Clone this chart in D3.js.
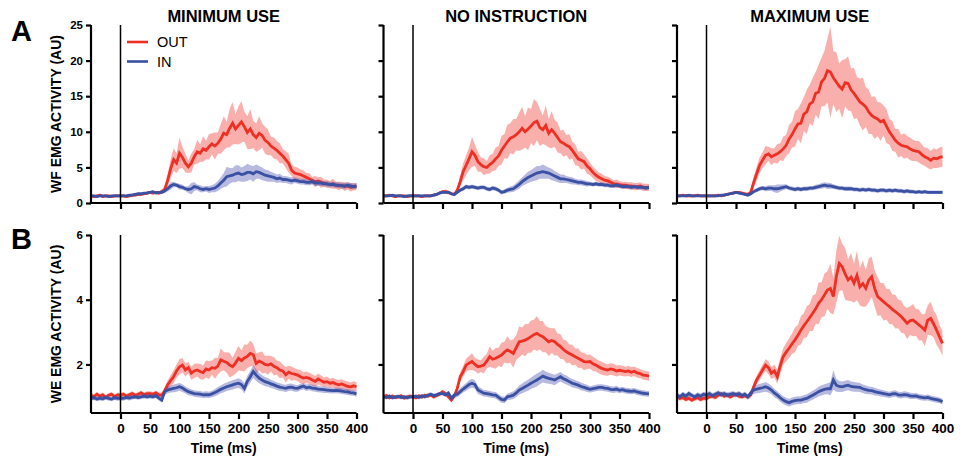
<!DOCTYPE html>
<html>
<head>
<meta charset="utf-8">
<script src="https://cdn.jsdelivr.net/npm/d3@7"></script>
<style>
  html, body { margin: 0; padding: 0; background: #fff; }
  svg { display: block; font-family: "Liberation Sans", Arial, Helvetica, sans-serif; }
</style>
</head>
<body>
<svg id="chart" width="964" height="459"></svg>
<script>
// Sample times (ms), 5 ms bins from -50 to 400
const time = d3.range(-50, 401, 5);

const conditions = ["MINIMUM USE", "NO INSTRUCTION", "MAXIMUM USE"];
const rowLetters = ["A", "B"];
const rowLabels = ["WF EMG ACTIVITY (AU)", "WE EMG ACTIVITY (AU)"];
const seriesNames = ["OUT", "IN"];
const xTicks = [0, 50, 100, 150, 200, 250, 300, 350, 400];
const wfTicks = [0, 5, 10, 15, 20, 25];
const weTicks = [2, 4, 6];
const xLabel = "Time (ms)";

// ---- Wrist flexor (WF), mean and SEM ----
const wfMinOut = [1.0,0.9,1.0,1.1,0.9,1.0,1.0,0.9,1.0,1.0, 1.0,1.0,0.9,1.0,1.1,1.1,1.2,1.2,1.3,1.4,
  1.5,1.4,1.5,1.4,1.6,1.9,3.2,4.8,6.1,5.6, 7.0,6.4,5.6,5.1,5.6,6.5,7.2,7.0,7.6,7.4,
  7.9,8.3,8.0,8.4,9.0,9.8,9.6,10.5,11.2,10.4, 10.9,11.4,10.7,9.9,10.4,9.6,9.2,9.8,9.5,8.8,
  8.5,8.0,7.7,7.4,7.0,6.6,6.1,5.6,4.6,4.2, 4.1,4.0,3.8,3.6,3.4,3.2,3.0,3.1,2.9,2.8,
  2.7,2.6,2.7,2.5,2.4,2.5,2.3,2.4,2.2,2.3, 2.3];
const wfMinOutSem = [0.2,0.2,0.2,0.2,0.2,0.2,0.2,0.2,0.2,0.2, 0.2,0.2,0.2,0.2,0.2,0.2,0.2,0.2,0.2,0.2,
  0.2,0.2,0.2,0.3,0.3,0.5,0.9,1.3,1.6,1.4, 2.2,1.5,1.3,0.9,1.3,1.1,1.7,1.2,1.8,1.3,
  1.8,1.5,1.9,1.5,2.1,2.4,1.8,2.7,3.0,2.1, 2.7,2.9,2.1,2.3,2.8,1.9,2.0,2.4,1.7,1.9,
  1.8,1.3,1.5,1.3,1.4,1.0,1.2,1.3,0.8,0.9, 0.9,0.7,0.8,0.6,0.8,0.5,0.8,0.5,0.8,0.5,
  0.6,0.5,0.7,0.5,0.6,0.5,0.6,0.5,0.6,0.5, 0.5];
const wfMinIn = [1.0,1.0,0.9,1.0,1.0,1.0,0.9,1.0,1.0,1.0, 1.0,1.0,1.0,1.1,1.1,1.2,1.3,1.3,1.4,1.4,
  1.5,1.6,1.4,1.5,1.5,1.7,2.0,2.4,2.6,2.5, 2.3,2.2,2.0,1.9,2.0,2.3,2.2,2.0,1.9,2.0,
  1.9,2.0,2.1,2.4,2.8,3.2,3.7,3.8,3.9,4.1, 4.2,4.0,4.1,4.3,4.3,4.1,4.4,4.3,4.1,3.9,
  3.8,3.7,3.6,3.4,3.5,3.3,3.3,3.2,3.1,3.2, 3.1,3.0,3.0,2.9,2.9,3.0,2.8,2.8,2.8,2.7,
  2.7,2.6,2.6,2.5,2.5,2.4,2.4,2.5,2.4,2.3, 2.4];
const wfMinInSem = [0.15,0.15,0.15,0.15,0.15,0.15,0.15,0.15,0.15,0.15, 0.15,0.15,0.15,0.15,0.15,0.15,0.15,0.15,0.15,0.15,
  0.15,0.15,0.15,0.2,0.2,0.3,0.4,0.5,0.4,0.3, 0.4,0.35,0.3,0.5,0.8,0.6,0.4,0.5,0.4,0.4,
  0.5,0.5,0.6,0.7,0.8,1.0,1.4,1.1,1.0,1.2, 1.1,1.0,1.1,1.2,1.0,1.1,1.0,0.9,0.9,0.8,
  0.8,0.7,0.6,0.6,0.6,0.5,0.5,0.5,0.5,0.4, 0.4,0.4,0.4,0.4,0.4,0.4,0.4,0.4,0.4,0.4,
  0.4,0.4,0.4,0.4,0.4,0.4,0.4,0.4,0.4,0.4, 0.4];

const wfNoiOut = [1.0,1.0,1.1,1.0,0.9,1.0,1.0,1.0,0.9,1.0, 1.0,1.0,1.0,0.9,1.0,1.0,1.0,1.1,1.2,1.4,
  1.6,1.6,1.5,1.3,1.2,1.8,3.0,4.4,5.3,6.2, 7.2,6.7,5.8,5.4,5.1,5.0,5.4,5.7,6.2,6.6,
  7.4,8.0,8.6,9.1,9.3,9.6,10.0,10.5,10.0,10.4, 10.8,11.3,11.5,10.6,10.3,10.9,9.8,10.3,9.8,9.2,
  8.6,8.4,8.1,7.9,7.4,6.8,6.2,6.0,5.8,5.2, 4.8,4.3,3.9,3.6,3.4,3.2,3.1,2.9,2.7,2.7,
  2.6,2.5,2.5,2.4,2.4,2.3,2.3,2.4,2.2,2.2, 2.2];
const wfNoiOutSem = [0.2,0.2,0.2,0.2,0.2,0.2,0.2,0.2,0.2,0.2, 0.2,0.2,0.2,0.2,0.2,0.2,0.2,0.2,0.2,0.2,
  0.2,0.3,0.3,0.2,0.2,0.4,0.8,1.2,1.4,1.6, 2.1,1.5,1.4,1.0,1.2,0.9,1.3,1.2,1.6,1.4,
  2.0,1.7,2.4,2.1,2.5,2.2,2.7,3.0,2.2,3.0, 2.4,3.3,2.7,2.6,2.0,2.8,2.0,2.6,1.9,2.1,
  1.6,1.9,1.4,1.8,1.2,1.5,1.0,1.3,1.0,1.1, 0.9,0.8,0.8,0.7,0.7,0.6,0.6,0.6,0.5,0.6,
  0.5,0.5,0.5,0.5,0.5,0.5,0.5,0.5,0.5,0.5, 0.5];
const wfNoiIn = [1.0,1.0,1.0,1.1,1.0,1.0,1.0,0.9,1.0,1.0, 1.0,1.0,1.0,1.0,1.0,1.0,1.0,1.1,1.2,1.4,
  1.5,1.5,1.5,1.3,1.2,1.5,1.8,2.0,2.3,2.2, 2.3,2.2,2.1,2.2,2.2,2.0,1.9,2.1,2.0,1.8,
  1.5,1.6,1.8,1.9,2.0,2.3,2.6,3.0,3.3,3.6, 3.8,4.0,4.2,4.3,4.4,4.3,4.2,4.0,3.8,3.6,
  3.4,3.4,3.3,3.2,3.1,3.0,2.9,2.9,2.8,2.7, 2.7,2.6,2.7,2.6,2.6,2.5,2.5,2.4,2.4,2.5,
  2.4,2.3,2.3,2.3,2.2,2.3,2.2,2.2,2.2,2.1, 2.2];
const wfNoiInSem = [0.15,0.15,0.15,0.15,0.15,0.15,0.15,0.15,0.15,0.15, 0.15,0.15,0.15,0.15,0.15,0.15,0.15,0.15,0.15,0.15,
  0.15,0.15,0.15,0.15,0.15,0.2,0.25,0.3,0.3,0.3, 0.3,0.3,0.3,0.3,0.3,0.3,0.3,0.3,0.3,0.3,
  0.3,0.3,0.35,0.4,0.45,0.5,0.6,0.6,0.7,0.8, 0.8,0.9,1.0,0.9,1.0,0.9,0.8,0.8,0.7,0.7,
  0.6,0.6,0.5,0.5,0.5,0.4,0.4,0.4,0.4,0.4, 0.3,0.3,0.3,0.3,0.3,0.3,0.3,0.3,0.3,0.3,
  0.3,0.3,0.3,0.3,0.3,0.3,0.3,0.3,0.3,0.3, 0.3];

const wfMaxOut = [1.0,1.0,1.1,1.0,1.0,1.0,1.0,1.1,1.0,1.0, 1.0,1.0,1.0,1.0,1.1,1.0,1.1,1.2,1.3,1.4,
  1.5,1.5,1.4,1.3,1.2,1.5,2.9,4.1,5.3,6.0, 6.7,6.9,6.5,6.7,6.9,7.2,7.6,8.1,9.0,9.6,
  10.4,11.1,11.2,12.5,12.8,13.9,14.2,15.4,15.6,17.0, 17.5,18.6,18.4,17.6,17.0,16.4,16.0,16.9,16.8,15.9,
  15.4,14.8,14.2,13.9,13.5,12.8,12.3,12.0,11.8,11.4, 11.6,10.8,10.0,9.4,8.8,8.4,8.1,8.0,7.9,7.6,
  7.4,7.3,7.2,6.8,6.5,6.3,6.0,6.3,6.2,6.4, 6.5];
const wfMaxOutSem = [0.2,0.2,0.2,0.2,0.2,0.2,0.2,0.2,0.2,0.2, 0.2,0.2,0.2,0.2,0.2,0.2,0.2,0.2,0.2,0.2,
  0.2,0.2,0.2,0.2,0.2,0.4,0.8,1.0,1.1,1.1, 1.3,1.0,1.2,1.0,1.4,1.2,1.7,1.5,2.0,1.8,
  2.5,2.1,2.8,2.4,3.1,2.7,3.4,3.0,3.8,3.4, 3.9,4.5,6.4,3.7,4.2,3.2,4.1,3.3,3.8,3.0,
  3.6,2.9,3.3,3.7,2.8,3.1,2.6,3.0,2.4,2.7, 2.1,2.4,1.8,2.1,1.6,2.0,1.5,1.8,1.5,1.6,
  1.5,1.4,1.5,1.4,1.3,1.4,1.3,1.4,1.3,1.4, 1.4];
const wfMaxIn = [1.0,1.0,1.0,1.0,1.1,1.0,1.0,1.0,1.0,1.0, 1.0,1.0,1.0,1.0,1.0,1.1,1.1,1.2,1.3,1.4,
  1.5,1.4,1.3,1.2,1.1,1.3,1.6,1.8,2.0,2.1, 2.0,2.1,2.1,2.0,2.0,2.1,2.2,2.3,2.1,2.0,
  1.9,2.0,1.9,2.0,2.0,2.1,2.1,2.2,2.3,2.4, 2.5,2.4,2.4,2.3,2.2,2.1,2.1,2.0,2.0,2.0,
  1.9,1.9,1.8,1.9,1.8,1.9,1.8,1.8,1.7,1.8, 1.8,1.7,1.8,1.7,1.8,1.7,1.7,1.6,1.7,1.6,
  1.6,1.5,1.6,1.5,1.6,1.5,1.5,1.5,1.5,1.5, 1.5];
const wfMaxInSem = [0.15,0.15,0.15,0.15,0.15,0.15,0.15,0.15,0.15,0.15, 0.15,0.15,0.15,0.15,0.15,0.15,0.15,0.15,0.15,0.15,
  0.15,0.15,0.15,0.15,0.15,0.2,0.25,0.3,0.3,0.3, 0.35,0.4,0.4,0.5,0.6,0.5,0.4,0.35,0.3,0.3,
  0.3,0.3,0.3,0.3,0.3,0.3,0.3,0.35,0.35,0.4, 0.4,0.45,0.4,0.35,0.3,0.3,0.3,0.3,0.3,0.3,
  0.3,0.3,0.3,0.3,0.3,0.3,0.3,0.3,0.3,0.3, 0.3,0.3,0.3,0.3,0.3,0.3,0.3,0.3,0.3,0.3,
  0.25,0.25,0.25,0.25,0.25,0.25,0.25,0.25,0.25,0.25, 0.25];

// ---- Wrist extensor (WE), mean and SEM ----
const weMinOut = [1.05,1.0,1.08,1.02,1.06,0.98,1.05,1.08,1.0,1.06, 1.05,1.08,1.02,1.06,1.1,1.04,1.08,1.12,1.06,1.1,
  1.1,1.08,1.12,1.06,1.05,1.19,1.37,1.5,1.62,1.8, 1.93,1.98,1.83,1.9,1.73,1.8,1.83,1.78,1.75,1.86,
  1.83,1.9,1.88,1.95,2.14,2.1,2.06,1.98,1.93,2.05, 2.19,2.12,2.2,2.25,2.34,2.3,2.03,2.1,2.06,2.0,
  1.98,2.02,1.94,1.9,1.83,1.8,1.68,1.76,1.72,1.7, 1.67,1.62,1.58,1.6,1.57,1.52,1.48,1.55,1.5,1.45,
  1.47,1.42,1.44,1.4,1.37,1.4,1.36,1.32,1.31,1.34, 1.31];
const weMinOutSem = [0.07,0.07,0.07,0.07,0.07,0.07,0.07,0.07,0.07,0.07, 0.07,0.07,0.07,0.07,0.07,0.07,0.07,0.07,0.07,0.07,
  0.07,0.07,0.07,0.08,0.08,0.1,0.14,0.17,0.2,0.2, 0.24,0.22,0.2,0.18,0.2,0.22,0.2,0.24,0.22,0.26,
  0.28,0.22,0.32,0.26,0.36,0.28,0.32,0.38,0.28,0.34, 0.38,0.32,0.42,0.36,0.4,0.34,0.32,0.28,0.34,0.26,
  0.3,0.24,0.28,0.22,0.26,0.2,0.24,0.2,0.22,0.18, 0.18,0.2,0.18,0.18,0.17,0.18,0.16,0.17,0.16,0.15,
  0.16,0.14,0.15,0.14,0.15,0.14,0.14,0.15,0.13,0.14, 0.14];
const weMinIn = [0.95,0.97,0.93,0.96,0.94,0.98,0.95,0.93,0.97,0.95, 0.96,0.95,0.98,0.96,0.99,1.0,0.98,1.0,1.02,1.0,
  1.02,1.0,1.03,0.96,0.9,1.16,1.21,1.24,1.26,1.28, 1.31,1.27,1.21,1.16,1.13,1.1,1.09,1.08,1.06,1.07,
  1.06,1.09,1.13,1.18,1.23,1.27,1.31,1.34,1.37,1.4, 1.42,1.38,1.26,1.48,1.62,1.78,1.67,1.58,1.52,1.47,
  1.44,1.4,1.37,1.33,1.3,1.28,1.26,1.29,1.3,1.27, 1.26,1.3,1.33,1.28,1.3,1.27,1.26,1.24,1.23,1.22,
  1.21,1.2,1.19,1.2,1.19,1.18,1.16,1.15,1.13,1.12, 1.09];
const weMinInSem = [0.07,0.07,0.07,0.07,0.07,0.07,0.07,0.07,0.07,0.07, 0.07,0.07,0.07,0.07,0.07,0.07,0.07,0.07,0.07,0.07,
  0.07,0.07,0.07,0.07,0.08,0.1,0.1,0.11,0.12,0.12, 0.12,0.12,0.11,0.11,0.1,0.1,0.1,0.1,0.1,0.1,
  0.1,0.1,0.11,0.12,0.12,0.13,0.13,0.14,0.14,0.14, 0.15,0.15,0.16,0.17,0.18,0.2,0.18,0.16,0.15,0.14,
  0.13,0.13,0.12,0.12,0.12,0.11,0.11,0.11,0.11,0.11, 0.1,0.1,0.1,0.1,0.1,0.1,0.1,0.1,0.1,0.1,
  0.09,0.09,0.09,0.09,0.09,0.09,0.09,0.09,0.09,0.09, 0.09];

const weNoiOut = [1.0,1.04,0.97,1.02,0.98,1.0,1.03,0.96,1.0,1.02, 1.0,0.97,1.03,0.99,1.05,1.02,1.06,1.0,1.04,1.08,
  1.16,1.1,1.0,0.9,1.02,1.26,1.62,1.78,1.98,2.04, 2.09,2.0,1.93,1.95,1.98,2.1,2.24,2.16,2.19,2.24,
  2.29,2.38,2.45,2.4,2.34,2.52,2.7,2.72,2.75,2.8, 2.86,2.92,2.96,2.9,2.86,2.78,2.7,2.74,2.7,2.62,
  2.55,2.46,2.39,2.34,2.29,2.24,2.19,2.14,2.09,2.08, 2.09,2.02,1.98,1.92,1.88,1.85,1.83,1.86,1.84,1.8,
  1.82,1.8,1.78,1.8,1.76,1.79,1.74,1.72,1.67,1.66, 1.64];
const weNoiOutSem = [0.06,0.06,0.06,0.06,0.06,0.06,0.06,0.06,0.06,0.06, 0.06,0.06,0.06,0.06,0.06,0.06,0.06,0.06,0.06,0.06,
  0.06,0.06,0.07,0.07,0.08,0.1,0.14,0.17,0.2,0.22, 0.26,0.2,0.22,0.18,0.26,0.22,0.32,0.26,0.32,0.28,
  0.38,0.32,0.42,0.34,0.44,0.38,0.48,0.42,0.5,0.44, 0.5,0.46,0.54,0.44,0.48,0.4,0.44,0.38,0.42,0.34,
  0.38,0.3,0.35,0.28,0.32,0.25,0.3,0.24,0.27,0.22, 0.22,0.22,0.2,0.2,0.2,0.19,0.18,0.18,0.18,0.17,
  0.16,0.16,0.15,0.16,0.15,0.15,0.15,0.14,0.14,0.14, 0.14];
const weNoiIn = [1.0,0.98,1.02,0.97,1.0,1.01,0.98,1.0,0.97,1.0, 1.0,1.02,0.98,1.03,1.0,1.05,1.08,1.04,1.06,1.1,
  1.1,1.06,1.12,0.96,1.05,1.08,1.16,1.24,1.31,1.38, 1.42,1.38,1.21,1.16,1.11,1.1,1.08,1.06,1.05,0.98,
  0.92,0.9,1.0,1.02,1.05,1.12,1.21,1.26,1.31,1.36, 1.42,1.47,1.52,1.58,1.64,1.6,1.57,1.55,1.52,1.57,
  1.62,1.56,1.52,1.47,1.42,1.39,1.36,1.32,1.29,1.26, 1.23,1.25,1.27,1.29,1.29,1.27,1.26,1.23,1.22,1.24,
  1.2,1.22,1.19,1.18,1.17,1.18,1.15,1.13,1.11,1.1, 1.09];
const weNoiInSem = [0.06,0.06,0.06,0.06,0.06,0.06,0.06,0.06,0.06,0.06, 0.06,0.06,0.06,0.06,0.06,0.06,0.06,0.06,0.06,0.06,
  0.06,0.06,0.07,0.07,0.08,0.09,0.1,0.11,0.12,0.13, 0.14,0.13,0.12,0.11,0.1,0.1,0.1,0.1,0.1,0.1,
  0.1,0.1,0.1,0.11,0.12,0.13,0.14,0.15,0.16,0.17, 0.18,0.19,0.2,0.19,0.2,0.18,0.17,0.16,0.16,0.15,
  0.15,0.14,0.14,0.13,0.13,0.12,0.12,0.12,0.11,0.11, 0.1,0.1,0.1,0.1,0.1,0.1,0.1,0.1,0.1,0.1,
  0.09,0.09,0.09,0.09,0.09,0.09,0.09,0.09,0.09,0.09, 0.09];

const weMaxOut = [1.0,0.95,0.98,0.92,0.96,0.9,0.94,0.97,0.92,0.96, 0.95,1.0,1.02,0.98,1.05,1.1,1.02,1.06,1.0,1.04,
  1.08,1.02,1.0,1.03,1.0,1.06,1.31,1.52,1.67,1.83, 1.98,1.9,1.73,1.8,1.62,1.96,2.24,2.38,2.5,2.64,
  2.76,2.9,3.06,3.2,3.32,3.45,3.58,3.72,3.89,4.0, 4.15,4.3,4.35,4.1,4.71,5.12,5.02,4.8,4.61,4.7,
  4.51,4.75,4.4,4.5,4.35,4.6,4.71,4.35,4.1,4.02, 3.94,3.86,3.79,3.7,3.63,3.56,3.48,3.38,3.27,3.35,
  3.37,3.3,3.22,3.15,3.06,3.37,3.42,3.25,3.06,2.85, 2.65];
const weMaxOutSem = [0.07,0.07,0.07,0.07,0.07,0.07,0.07,0.07,0.07,0.07, 0.07,0.07,0.07,0.07,0.07,0.07,0.07,0.07,0.07,0.07,
  0.07,0.07,0.07,0.07,0.08,0.1,0.12,0.14,0.15,0.16, 0.18,0.2,0.18,0.2,0.22,0.24,0.26,0.28,0.3,0.32,
  0.38,0.32,0.44,0.38,0.48,0.42,0.55,0.46,0.64,0.54, 0.66,0.58,0.76,0.56,0.8,0.86,0.72,0.8,0.64,0.74,
  0.6,0.76,0.58,0.72,0.56,0.68,0.62,0.56,0.6,0.5, 0.58,0.48,0.54,0.46,0.52,0.44,0.5,0.42,0.48,0.44,
  0.5,0.42,0.48,0.4,0.5,0.46,0.52,0.42,0.46,0.38, 0.38];
const weMaxIn = [1.05,1.0,1.08,1.02,1.1,1.04,1.0,1.06,1.02,1.08, 1.05,1.1,1.04,1.08,1.12,1.06,1.1,1.05,1.08,1.1,
  1.06,1.1,1.04,1.08,1.0,1.12,1.21,1.24,1.26,1.28, 1.31,1.27,1.21,1.12,1.05,0.97,0.9,0.85,0.82,0.86,
  0.88,0.9,0.9,0.93,0.95,1.0,1.05,1.1,1.16,1.2, 1.23,1.25,1.25,1.52,1.36,1.32,1.31,1.34,1.36,1.32,
  1.31,1.3,1.29,1.25,1.22,1.2,1.19,1.16,1.14,1.12, 1.1,1.08,1.06,1.09,1.1,1.06,1.05,1.07,1.06,1.03,
  1.02,1.03,1.0,0.98,0.97,0.98,0.95,0.93,0.91,0.89, 0.85];
const weMaxInSem = [0.08,0.08,0.08,0.08,0.08,0.08,0.08,0.08,0.08,0.08, 0.08,0.08,0.08,0.08,0.08,0.08,0.08,0.08,0.08,0.08,
  0.08,0.08,0.08,0.08,0.08,0.1,0.12,0.13,0.14,0.14, 0.15,0.14,0.13,0.13,0.12,0.12,0.12,0.12,0.12,0.12,
  0.12,0.12,0.12,0.12,0.13,0.13,0.14,0.14,0.15,0.16, 0.16,0.17,0.2,0.3,0.2,0.17,0.16,0.16,0.16,0.15,
  0.15,0.14,0.14,0.13,0.13,0.12,0.12,0.12,0.11,0.11, 0.1,0.1,0.1,0.1,0.1,0.1,0.1,0.1,0.1,0.1,
  0.09,0.09,0.09,0.09,0.09,0.09,0.09,0.09,0.09,0.09, 0.09];

// Panels: [row][column]
const panels = [
  [
    { out: wfMinOut, outSem: wfMinOutSem, inn: wfMinIn, innSem: wfMinInSem },
    { out: wfNoiOut, outSem: wfNoiOutSem, inn: wfNoiIn, innSem: wfNoiInSem },
    { out: wfMaxOut, outSem: wfMaxOutSem, inn: wfMaxIn, innSem: wfMaxInSem }
  ],
  [
    { out: weMinOut, outSem: weMinOutSem, inn: weMinIn, innSem: weMinInSem },
    { out: weNoiOut, outSem: weNoiOutSem, inn: weNoiIn, innSem: weNoiInSem },
    { out: weMaxOut, outSem: weMaxOutSem, inn: weMaxIn, innSem: weMaxInSem }
  ]
];

// ---- Layout ----
const panelLeft = [91, 383.5, 677];
const panelWidth = 265.5;
const rowTop = [25, 235];
const panelHeight = 178;
const yDomains = [[0, 25], [0.5, 6]];
const yTickSets = [wfTicks, weTicks];

const COLOR_OUT = "#ee2f24";
const COLOR_IN = "#3a50a3";
const BAND_OUT = "#ee2f24";
const BAND_IN = "#4a4fb0";

const svg = d3.select("#chart");

rowLabels.forEach((lbl, r) => {
  const y0 = rowTop[r];
  svg.append("text")
    .attr("x", 11)
    .attr("y", y0 + (r === 0 ? 15.5 : 13.5))
    .attr("font-size", 29)
    .attr("font-weight", "bold")
    .text(rowLetters[r]);
  svg.append("text")
    .attr("transform", `translate(61,${y0 + panelHeight / 2}) rotate(-90)`)
    .attr("text-anchor", "middle")
    .attr("font-size", 14)
    .attr("font-weight", "bold")
    .text(lbl);
});

for (let r = 0; r < 2; r++) {
  for (let c = 0; c < 3; c++) {
    const x0 = panelLeft[c], y0 = rowTop[r];
    const g = svg.append("g").attr("transform", `translate(${x0},${y0})`);
    const x = d3.scaleLinear().domain([-50, 400]).range([0, panelWidth]);
    const y = d3.scaleLinear().domain(yDomains[r]).range([panelHeight, 0]);
    const p = panels[r][c];

    const band = (mean, sem) => d3.area()
      .x((d, i) => x(time[i]))
      .y0((d, i) => y(mean[i] - sem[i]))
      .y1((d, i) => y(mean[i] + sem[i]))(mean);
    const line = d3.line().x((d, i) => x(time[i])).y(d => y(d));

    // SEM bands and mean traces
    g.append("path").attr("d", band(p.out, p.outSem)).attr("fill", BAND_OUT).attr("fill-opacity", 0.38);
    g.append("path").attr("d", line(p.out)).attr("fill", "none").attr("stroke", COLOR_OUT)
      .attr("stroke-width", 2.8).attr("stroke-linejoin", "miter");
    g.append("path").attr("d", band(p.inn, p.innSem)).attr("fill", BAND_IN).attr("fill-opacity", 0.4);
    g.append("path").attr("d", line(p.inn)).attr("fill", "none").attr("stroke", COLOR_IN)
      .attr("stroke-width", 2.8).attr("stroke-linejoin", "miter");

    // Stimulus onset
    g.append("line")
      .attr("x1", x(0)).attr("x2", x(0))
      .attr("y1", 0).attr("y2", panelHeight)
      .attr("stroke", "#000").attr("stroke-width", 1.5);

    // Y axis
    const yAxis = d3.axisLeft(y).tickValues(yTickSets[r]).tickSize(5).tickPadding(3)
      .tickFormat(c === 0 ? d3.format("d") : () => "");
    const ya = g.append("g").call(yAxis);
    ya.select(".domain").attr("d", `M0,0V${panelHeight}`).attr("stroke-width", 2.2);
    ya.selectAll(".tick line").attr("stroke-width", 2.2);
    ya.selectAll("text").attr("font-size", 11.5).attr("font-weight", "bold")
      .attr("font-family", "Liberation Sans, Arial, sans-serif").attr("fill", "#000");

    // X axis
    const xAxis = d3.axisBottom(x).tickValues(xTicks).tickSize(6).tickPadding(4)
      .tickFormat(r === 1 ? d3.format("d") : () => "");
    const xa = g.append("g").attr("transform", `translate(0,${panelHeight})`).call(xAxis);
    xa.select(".domain").attr("d", `M0,0H${panelWidth}`).attr("stroke-width", 2.2);
    xa.selectAll(".tick line").attr("stroke-width", 2.2);
    xa.selectAll("text").attr("font-size", 13.5).attr("font-weight", "bold")
      .attr("font-family", "Liberation Sans, Arial, sans-serif").attr("fill", "#000");

    if (r === 0) {
      g.append("text")
        .attr("x", panelWidth / 2).attr("y", -3.5)
        .attr("text-anchor", "middle")
        .attr("font-size", 16.5).attr("font-weight", "bold")
        .text(conditions[c]);
    } else {
      g.append("text")
        .attr("x", panelWidth / 2).attr("y", panelHeight + 40)
        .attr("text-anchor", "middle")
        .attr("font-size", 14).attr("font-weight", "bold")
        .text(xLabel);
    }
  }
}

// Legend
const legend = svg.append("g").attr("transform", "translate(127,42)");
[COLOR_OUT, COLOR_IN].forEach((col, i) => {
  legend.append("line").attr("x1", 0).attr("x2", 21)
    .attr("y1", i * 19.5).attr("y2", i * 19.5)
    .attr("stroke", col).attr("stroke-width", 2.6);
  legend.append("text").attr("x", 30).attr("y", i * 19.5 + 5)
    .attr("font-size", 14.5).text(seriesNames[i]);
});
</script>
</body>
</html>
